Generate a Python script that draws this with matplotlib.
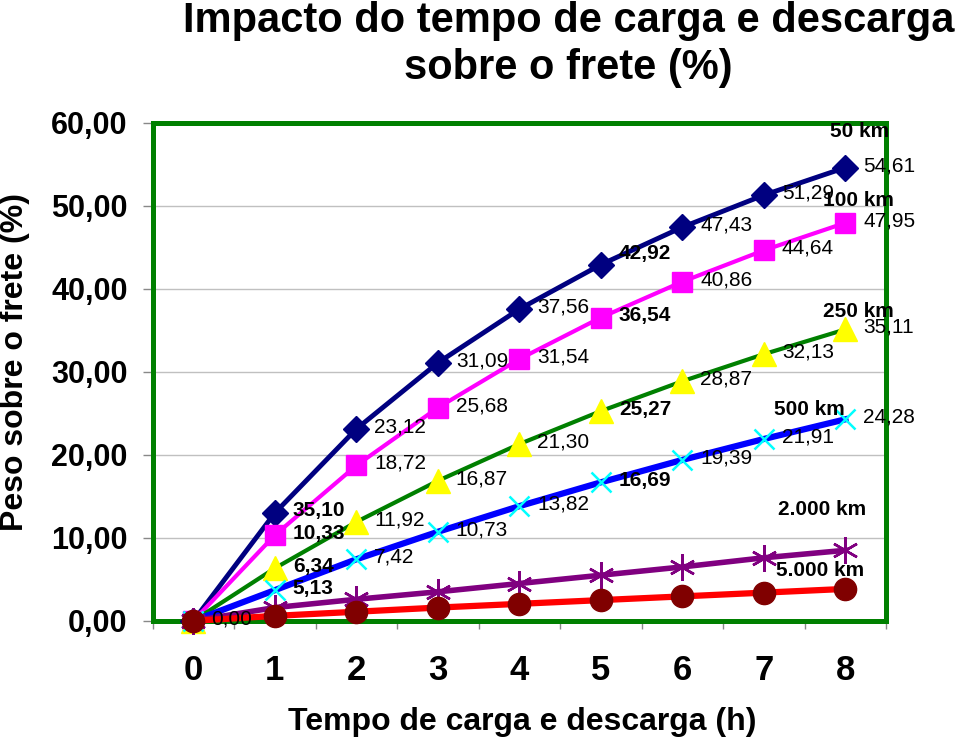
import matplotlib
matplotlib.use("Agg")
import matplotlib.pyplot as plt
from matplotlib import font_manager

plt.rcParams['font.family'] = ['Liberation Sans', 'DejaVu Sans']
names = {f.name for f in font_manager.fontManager.ttflist}
narrow = 'Liberation Sans Narrow' if 'Liberation Sans Narrow' in names else 'Liberation Sans'

hours = [0, 1, 2, 3, 4, 5, 6, 7, 8]
km50 = [0, 13.0, 23.12, 31.09, 37.56, 42.92, 47.43, 51.29, 54.61]
km100 = [0, 10.33, 18.72, 25.68, 31.54, 36.54, 40.86, 44.64, 47.95]
km250 = [0, 6.34, 11.92, 16.87, 21.30, 25.27, 28.87, 32.13, 35.11]
km500 = [0, 3.7, 7.42, 10.73, 13.82, 16.69, 19.39, 21.91, 24.28]
km2000 = [0, 1.6, 2.6, 3.5, 4.5, 5.5, 6.5, 7.6, 8.5]
km5000 = [0, 0.6, 1.1, 1.6, 2.05, 2.5, 2.95, 3.4, 3.85]

# texts shown next to points (as in the original)
lab50 = ['', '35,10', '23,12', '31,09', '37,56', '42,92', '47,43', '51,29', '54,61']
lab100 = ['', '10,33', '18,72', '25,68', '31,54', '36,54', '40,86', '44,64', '47,95']
lab250 = ['', '6,34', '11,92', '16,87', '21,30', '25,27', '28,87', '32,13', '35,11']
lab500 = ['0,00', '5,13', '7,42', '10,73', '13,82', '16,69', '19,39', '21,91', '24,28']
bold_idx = [1, 5]

series_names = ['50 km', '100 km', '250 km', '500 km', '2.000 km', '5.000 km']
name_pos = [(8.17, 58.9), (8.16, 50.7), (8.16, 37.3), (7.56, 25.5), (7.72, 13.4), (7.69, 6.1)]

fig = plt.figure(figsize=(9.6, 7.4), dpi=100)
ax = fig.add_axes([0.159, 0.161, 0.764, 0.673])

ax.plot(hours, km50, color='#000080', lw=3.5, marker='D', ms=13, mfc='#000080', mec='#000080', zorder=3, clip_on=False)
ax.plot(hours, km100, color='#ff00ff', lw=3, marker='s', ms=15, mfc='#ff00ff', mec='#ff00ff', zorder=3, clip_on=False)
ax.plot(hours, km250, color='#008000', lw=3, marker='^', ms=17, mfc='#ffff00', mec='#ffff00', zorder=3, clip_on=False)
ax.plot(hours, km500, color='#0000ff', lw=4.5, marker='x', ms=15, mec='#00ffff', mew=1.8, zorder=3, clip_on=False)
ax.plot(hours, km2000, color='#800080', lw=4, marker=(6, 2, 0), ms=19, mec='#800080', mew=1.8, zorder=3, clip_on=False)
ax.plot(hours, km5000, color='#ff0000', lw=4.5, marker='o', ms=16, mfc='#800000', mec='#800000', zorder=3, clip_on=False)

for vals, labs in [(km50, lab50), (km100, lab100), (km250, lab250), (km500, lab500)]:
    for i, (v, t) in enumerate(zip(vals, labs)):
        if not t:
            continue
        dy = 2
        if t == '42,92':
            dy = 11
        ax.annotate(t, (hours[i], v), xytext=(18, dy), textcoords='offset pixels',
                    ha='left', va='center', fontsize=15,
                    fontweight='bold' if i in bold_idx else 'normal', zorder=6)

for n, (x, y) in zip(series_names, name_pos):
    ax.text(x, y, n, ha='center', va='center', fontsize=15, fontweight='bold', zorder=6)

ax.set_xlim(-0.5, 8.5)
ax.set_ylim(0, 60)
ax.set_yticks(range(0, 61, 10))
ax.set_yticklabels(['%d,00' % v for v in range(0, 61, 10)], fontsize=22, fontweight='bold')
ax.set_xticks(hours)
ax.set_xticklabels([str(h) for h in hours], fontsize=25, fontweight='bold', family=narrow)
ax.set_xticks([h - 0.5 for h in hours] + [8.5], minor=True)
ax.tick_params(axis='x', which='major', length=0, pad=24)
ax.tick_params(axis='x', which='minor', length=6, color='#888888', width=1)
ax.tick_params(axis='y', length=7, color='#888888', width=1, pad=11)
ax.yaxis.grid(True, color='#c0c0c0', lw=1)
ax.set_axisbelow(True)
for s in ax.spines.values():
    s.set_color('#008000')
    s.set_linewidth(3.6)
    s.set_zorder(2)

fig.text(0.592, 1 - 21 / 740, 'Impacto do tempo de carga e descarga', ha='center', va='center',
         fontsize=30, fontweight='bold', family=narrow)
fig.text(0.592, 1 - 68 / 740, 'sobre o frete (%)', ha='center', va='center',
         fontsize=30, fontweight='bold', family=narrow)
fig.text(522 / 960, 1 - 722 / 740, 'Tempo de carga e descarga (h)', ha='center', va='center',
         fontsize=23, fontweight='bold')
fig.text(15 / 960, 1 - 362 / 740, 'Peso sobre o frete (%)', ha='center', va='center',
         fontsize=23, fontweight='bold', rotation=90)

fig.savefig('out.png', dpi=100)
